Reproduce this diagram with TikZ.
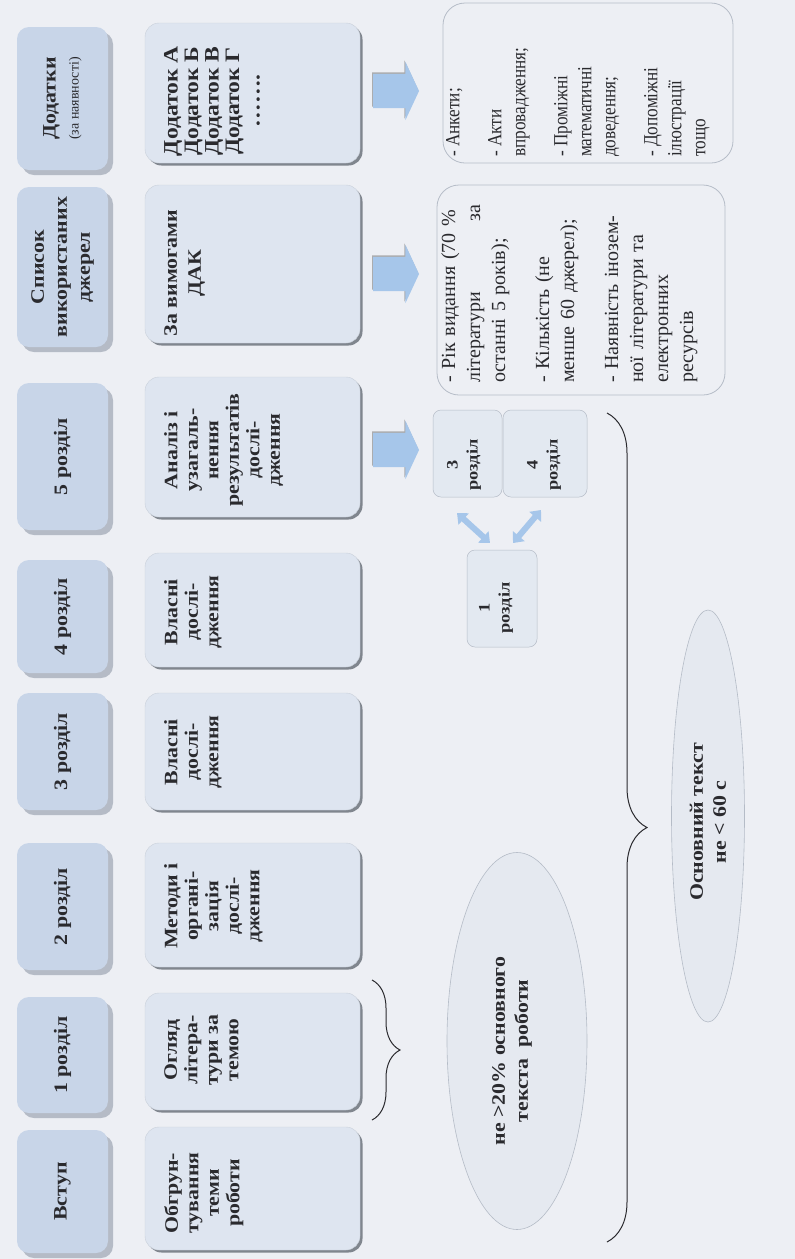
\documentclass[tikz,border=0pt]{standalone}
\usepackage{fontspec}
\setmainfont{Liberation Serif}
\newfontfamily\bfx{Liberation Serif}[FakeStretch=1.15]
\newfontfamily\rmx{Liberation Serif}
\newfontfamily\rmc{Liberation Serif}[FakeStretch=0.86]
\usetikzlibrary{shapes.geometric,shapes.arrows,shadows,decorations.pathreplacing,arrows.meta,calc}
\definecolor{paper}{HTML}{EDEFF4}
\definecolor{hfill}{HTML}{C8D5E8}
\definecolor{hshadow}{HTML}{A7AFBB}
\definecolor{cfill}{HTML}{DEE5F0}
\definecolor{cedge}{HTML}{C9D0DA}
\definecolor{cshadow}{HTML}{80868E}
\definecolor{arrowblue}{HTML}{A6C6EA}
\definecolor{ink}{HTML}{2A2A2E}
\definecolor{faint}{HTML}{B5BCC7}
\definecolor{sfill}{HTML}{E3E9F1}
\definecolor{efill}{HTML}{E5E9F0}
\tikzset{
  hbox/.style={fill=hfill, rounded corners=12pt, inner sep=0pt,
    drop shadow={shadow xshift=5pt, shadow yshift=-5pt, fill=hshadow, opacity=0.8}},
  cbox/.style={fill=cfill, draw=cedge, line width=0.4pt, rounded corners=14pt, inner sep=0pt,
    drop shadow={shadow xshift=2.5pt, shadow yshift=-2.5pt, fill=cshadow, opacity=1}},
  sbox/.style={fill=sfill, draw=faint, line width=0.5pt, rounded corners=8pt, inner sep=0pt},
  tbox/.style={draw=faint, line width=0.8pt, rounded corners=22pt, inner sep=0pt},
  oval/.style={ellipse, fill=efill, draw=faint, line width=0.6pt, inner sep=0pt},
  htext/.style={rotate=90, align=center, inner sep=0pt, text=ink,
    font=\bfx\bfseries\fontsize{19}{23}\selectfont},
  ctext/.style={rotate=90, align=center, anchor=north, inner sep=0pt, text=ink,
    font=\bfx\bfseries\fontsize{19}{20.5}\selectfont},
  stext/.style={rotate=90, align=center, inner sep=0pt, text=ink,
    font=\bfx\bfseries\fontsize{16}{20}\selectfont},
  ttext/.style={rotate=90, align=left, anchor=north west, inner sep=0pt, text=ink},
  blockarrow/.style={single arrow, fill=arrowblue, draw=none, minimum height=46pt,
    inner xsep=0pt, inner ysep=17pt, single arrow head extend=12pt, single arrow tip angle=130,
    drop shadow={shadow xshift=-1pt, shadow yshift=1.5pt, fill=gray, opacity=0.6}},
  dblarrow/.style={line width=6pt, draw=arrowblue,
    {Triangle[width=15pt,length=9pt]}-{Triangle[width=15pt,length=9pt]}},
  bracestyle/.style={draw=ink, line width=1pt, decorate}
}
\begin{document}
\begin{tikzpicture}[x=1pt,y=-1pt]
\useasboundingbox (0,0) rectangle (795,1259);
\fill[paper] (0,0) rectangle (795,1259);

% ellipses
\node[oval, minimum width=140pt, minimum height=377pt] (e1) at (517,1041) {};
\node[oval, minimum width=73pt, minimum height=412pt] (e2) at (708,816) {};
\node[htext] (e1t) at (512,1051) {не >20\% основного\\текста\ \ роботи};
\node[htext] (e2t) at (708,822) {Основний текст\\не < 60 с};

% header column
\node[hbox, minimum width=91pt, minimum height=143pt] (h8) at (62.5,98.5) {};
\node[hbox, minimum width=91pt, minimum height=160pt] (h7) at (62.5,267) {};
\node[hbox, minimum width=91pt, minimum height=147pt] (h6) at (62.5,456.5) {};
\node[hbox, minimum width=91pt, minimum height=113pt] (h5) at (62.5,616.5) {};
\node[hbox, minimum width=91pt, minimum height=117pt] (h4) at (62.5,751.5) {};
\node[hbox, minimum width=91pt, minimum height=127pt] (h3) at (62.5,906.5) {};
\node[hbox, minimum width=91pt, minimum height=116pt] (h2) at (62.5,1055) {};
\node[hbox, minimum width=91pt, minimum height=123pt] (h1) at (62.5,1191.5) {};
\node[htext] (h8t) at (h8) {Додатки\\{\rmx\mdseries\fontsize{14}{16}\selectfont (за наявності)}};
\node[htext] (h7t) at (h7) {Список\\використаних\\джерел};
\node[htext] (h6t) at (h6) {5 розділ};
\node[htext] (h5t) at (h5) {4 розділ};
\node[htext] (h4t) at (h4) {3 розділ};
\node[htext] (h3t) at (h3) {2 розділ};
\node[htext] (h2t) at (h2) {1 розділ};
\node[htext] (h1t) at (h1) {Вступ};

% content column
\node[cbox, minimum width=215pt, minimum height=140pt] (c8) at (252.5,93) {};
\node[cbox, minimum width=215pt, minimum height=158pt] (c7) at (252.5,264) {};
\node[cbox, minimum width=215pt, minimum height=140pt] (c6) at (252.5,447) {};
\node[cbox, minimum width=215pt, minimum height=114pt] (c5) at (252.5,610) {};
\node[cbox, minimum width=215pt, minimum height=117pt] (c4) at (252.5,751.5) {};
\node[cbox, minimum width=215pt, minimum height=124pt] (c3) at (252.5,905) {};
\node[cbox, minimum width=215pt, minimum height=117pt] (c2) at (252.5,1051.5) {};
\node[cbox, minimum width=215pt, minimum height=123pt] (c1) at (252.5,1188.5) {};
\node[ctext, font=\bfx\bfseries\fontsize{20.5}{20.5}\selectfont] (c8t) at (164,101) {Додаток А\\Додаток Б\\Додаток В\\Додаток Г\\…….};
\node[ctext, font=\bfx\bfseries\fontsize{19}{24}\selectfont] (c7t) at (164,273) {За вимогами\\ДАК};
\node[ctext] (c6t) at (164,450) {Аналіз і\\узагаль-\\нення\\результатів\\дослі-\\дження};
\node[ctext] (c5t) at (164,612) {Власні\\дослі-\\дження};
\node[ctext] (c4t) at (164,752) {Власні\\дослі-\\дження};
\node[ctext] (c3t) at (164,906) {Методи і\\органі-\\зація\\дослі-\\дження};
\node[ctext] (c2t) at (164,1050) {Огляд\\літера-\\тури за\\темою};
\node[ctext] (c1t) at (164,1193) {Обгрун-\\тування\\теми\\роботи};

% block arrows
\node[blockarrow] (a1) at (392,91) {};
\node[blockarrow] (a2) at (392,274) {};
\node[blockarrow] (a3) at (392,450) {};

% text boxes
\node[tbox, minimum width=290pt, minimum height=160pt] (t1) at (588,83) {};
\node[tbox, minimum width=288pt, minimum height=210pt] (t2) at (581,290) {};
\node[ttext, font=\rmc\fontsize{20}{24}\selectfont] (t1t) at (446,157)
  {- Анкети;\\[18pt]- Акти\\впровадження;\\[18pt]- Проміжні\\математичні\\доведення;\\[18pt]- Допоміжні\\ілюстрації\\тощо};
\node[ttext, text width=178pt, font=\rmx\fontsize{20}{25}\selectfont] (t2t) at (441,383)
  {- Рік видання (70 \%\\літератури\hfill за\\останні 5 років);\\[19pt]- Кількість (не\\менше 60 джерел);\\[19pt]- Наявність інозем-\\ної літератури та\\електронних\\ресурсів};

% small boxes
\node[sbox, minimum width=69pt, minimum height=87pt] (r3) at (467.5,453.5) {};
\node[sbox, minimum width=84pt, minimum height=87pt] (r4) at (545,453.5) {};
\node[sbox, minimum width=70pt, minimum height=97pt] (r1) at (502,598.5) {};
\node[stext] (r3t) at (464,465) {3\\розділ};
\node[stext] (r4t) at (544,465) {4\\розділ};
\node[stext] (r1t) at (496,608) {1\\розділ};
\coordinate (p1) at (457,513);
\coordinate (p2) at (490,543);
\coordinate (p3) at (513,543);
\coordinate (p4) at (541,510);
\draw[dblarrow] (p1) -- (p2);
\draw[dblarrow] (p3) -- (p4);

% braces
\coordinate (b1s) at (372,980);
\coordinate (b1e) at (372,1120);
\coordinate (b2s) at (607,413);
\coordinate (b2e) at (607,1242);
\draw[bracestyle, decoration={brace, amplitude=28pt}] (b1s) -- (b1e);
\draw[bracestyle, decoration={brace, amplitude=40pt}] (b2s) -- (b2e);
\end{tikzpicture}
\end{document}
